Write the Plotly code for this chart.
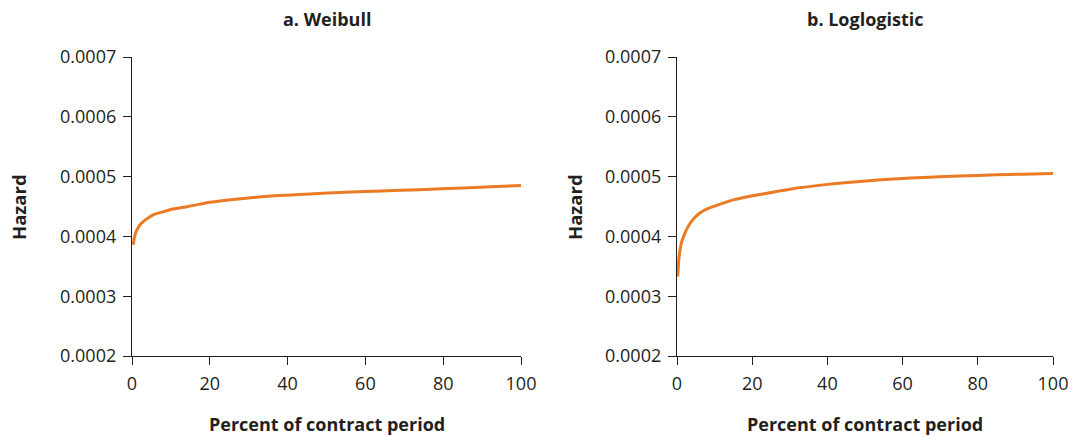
import plotly.graph_objects as go
from plotly.subplots import make_subplots

# Hazard estimates over the contract period (percent of period elapsed)
weibull_pct = [0.35, 0.6, 1.0, 1.6, 2.3, 3.5, 5.7, 8.0, 10.0, 14.4, 17.5, 20.0,
               28.0, 35.0, 40.0, 45.8, 52.0, 60.0, 69.0, 74.0, 85.0, 92.0, 100.0]
weibull_hazard = [0.000386, 0.000398, 0.000407, 0.000415, 0.000421, 0.000428, 0.000437,
                  0.000441, 0.000445, 0.000450, 0.000454, 0.000457, 0.000463, 0.000467,
                  0.000469, 0.000471, 0.000473, 0.000475, 0.000477, 0.000478, 0.000481,
                  0.000483, 0.000485]

loglog_pct = [0.2, 0.5, 0.8, 1.2, 1.7, 2.5, 3.5, 4.8, 6.1, 8.0, 10.6, 15.0, 19.4, 22.0,
              30.0, 40.0, 48.7, 60.0, 67.0, 75.0, 85.0, 92.0, 100.0]
loglog_hazard = [0.000333, 0.000362, 0.000377, 0.000390, 0.000399, 0.000411, 0.000422,
                 0.000432, 0.000439, 0.000446, 0.000452, 0.000461, 0.000467, 0.000470,
                 0.000479, 0.000487, 0.000492, 0.000497, 0.000499, 0.000501, 0.000503,
                 0.000504, 0.000505]

panel_titles = ["a. Weibull", "b. Loglogistic"]
x_ticks = [0, 20, 40, 60, 80, 100]
y_ticks = [0.0002, 0.0003, 0.0004, 0.0005, 0.0006, 0.0007]
y_tick_text = ["0.0002", "0.0003", "0.0004", "0.0005", "0.0006", "0.0007"]

W, H = 1072, 437
LINE = "#EB7A24"
INK = "#231F20"
FONT = "Open Sans"

fig = make_subplots(rows=1, cols=2)

fig.add_trace(go.Scatter(x=weibull_pct, y=weibull_hazard, mode="lines",
                         line=dict(color=LINE, width=3, shape="spline", smoothing=0.8),
                         showlegend=False, hoverinfo="skip"), row=1, col=1)
fig.add_trace(go.Scatter(x=loglog_pct, y=loglog_hazard, mode="lines",
                         line=dict(color=LINE, width=3, shape="spline", smoothing=0.8),
                         showlegend=False, hoverinfo="skip"), row=1, col=2)

# plot-area geometry in pixels
left_px = [(132, 521), (677, 1053)]
top_px, bottom_px = 57, 356

axis_common = dict(showline=True, linecolor=INK, linewidth=1.3, ticks="outside",
                   ticklen=8, tickwidth=1.3, tickcolor=INK, showgrid=False,
                   zeroline=False, automargin=False, ticklabelstandoff=3,
                   tickfont=dict(family=FONT, size=18, color=INK))


def label(text, x_px, y_px, size, angle=0):
    fig.add_annotation(text=text, x=x_px / W, y=1 - y_px / H, textangle=angle,
                       xref="paper", yref="paper", xanchor="center", yanchor="middle",
                       showarrow=False, font=dict(family=FONT, size=size, color=INK))


for i, (x0, x1) in enumerate(left_px):
    xa = "xaxis" if i == 0 else "xaxis2"
    ya = "yaxis" if i == 0 else "yaxis2"
    fig.layout[xa].update(domain=[x0 / W, x1 / W], range=[0, 100], tickvals=x_ticks,
                          **axis_common)
    fig.layout[ya].update(domain=[1 - bottom_px / H, 1 - top_px / H],
                          range=[0.0002, 0.0007], tickvals=y_ticks, ticktext=y_tick_text,
                          **axis_common)
    cx = (x0 + x1) / 2
    label("<b>" + panel_titles[i] + "</b>", cx, 19, 18)
    label("<b>Percent of contract period</b>", cx, 424, 18)
    label("<b>Hazard</b>", 19 if i == 0 else 575, 207, 18.5, angle=-90)

fig.update_layout(width=W, height=H, margin=dict(l=0, r=0, t=0, b=0),
                  paper_bgcolor="white", plot_bgcolor="white", template="none")

fig.write_html("out.html")
